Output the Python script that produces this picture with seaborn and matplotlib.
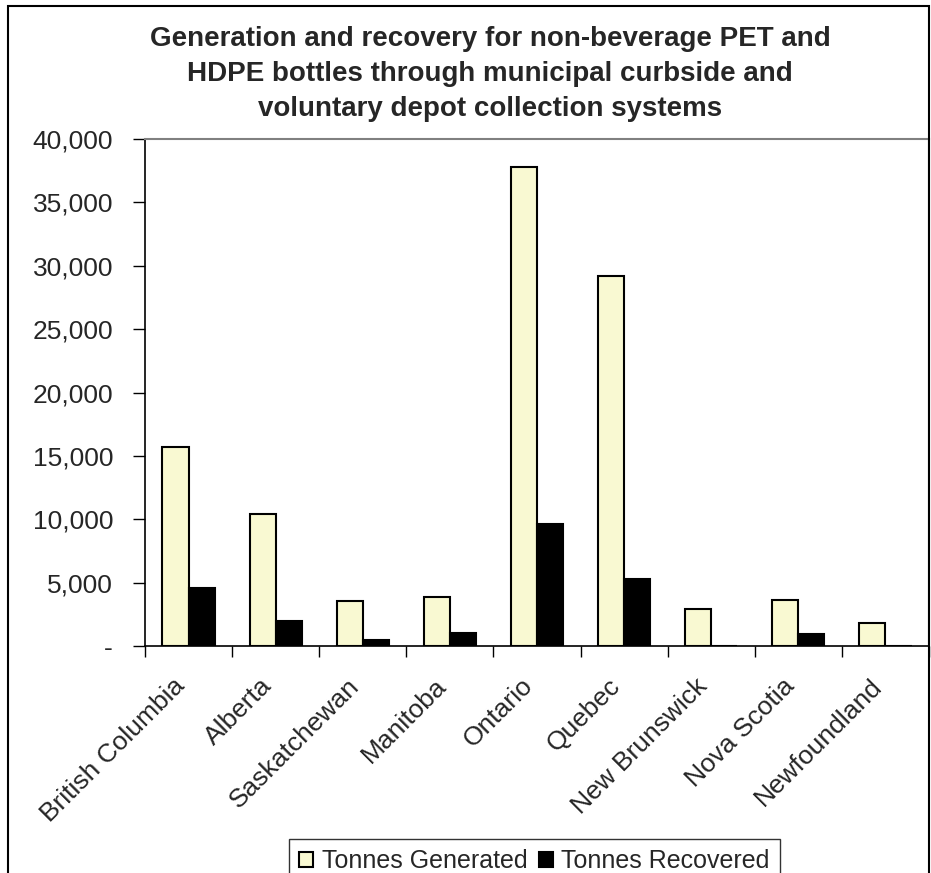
import pandas as pd
import seaborn as sns
import matplotlib.pyplot as plt
from matplotlib.ticker import FuncFormatter, FixedLocator
from matplotlib.patches import Rectangle
from matplotlib.transforms import ScaledTranslation

# Values (tonnes)
provinces = ['British Columbia', 'Alberta', 'Saskatchewan', 'Manitoba', 'Ontario',
             'Quebec', 'New Brunswick', 'Nova Scotia', 'Newfoundland']
generated = [15700, 10440, 3570, 3870, 37800, 29170, 2900, 3600, 1790]
recovered = [4550, 1950, 450, 1000, 9650, 5260, 0, 970, 0]
series = ['Tonnes Generated', 'Tonnes Recovered']
colors = ['#FFFFCC', '#000000']

df = pd.DataFrame({
    'Province': provinces * 2,
    'Series': [series[0]] * len(provinces) + [series[1]] * len(provinces),
    'Tonnes': generated + recovered,
})

sns.set_style('white')
plt.rcParams['font.family'] = ['Liberation Sans', 'DejaVu Sans']

fig = plt.figure(figsize=(9.31, 8.73), dpi=100)
ax = fig.add_axes([145 / 931, 1 - 646 / 873, (929 - 145) / 931, (646 - 139) / 873])

sns.barplot(data=df, x='Province', y='Tonnes', hue='Series', palette=colors,
            width=0.6, edgecolor='black', linewidth=1.5, ax=ax, legend=True)

ax.set_xlim(-0.5, len(provinces) - 0.5)
ax.set_ylim(0, 40000)
ax.set_yticks(range(0, 40001, 5000))
ax.yaxis.set_major_formatter(FuncFormatter(lambda v, p: '-' if v == 0 else f'{int(v):,}'))
ax.tick_params(axis='y', direction='out', length=9, width=1, color='black',
               labelsize=19, pad=14, left=True)

# category labels at centres, tick marks between categories
ax.set_xticks(range(len(provinces)))
ax.set_xticklabels(provinces, rotation=45, ha='right', rotation_mode='anchor', fontsize=19)
ax.tick_params(axis='x', which='major', length=0, pad=20)
shift = ScaledTranslation(-16 / 100, 0, fig.dpi_scale_trans)
for lbl in ax.get_xticklabels():
    lbl.set_transform(lbl.get_transform() + shift)
ax.xaxis.set_minor_locator(FixedLocator([i - 0.5 for i in range(len(provinces) + 1)]))
ax.tick_params(axis='x', which='minor', direction='out', length=8, width=1,
               color='black', bottom=True)

ax.set_xlabel('')
ax.set_ylabel('')

for side in ['left', 'bottom']:
    ax.spines[side].set_color('black')
    ax.spines[side].set_linewidth(1.2)
ax.spines['top'].set_color('#808080')
ax.spines['top'].set_linewidth(1.5)
ax.spines['right'].set_color('#808080')
ax.spines['right'].set_linewidth(1.5)

fig.text(490 / 931, 1 - 74 / 873,
         'Generation and recovery for non-beverage PET and\n'
         'HDPE bottles through municipal curbside and\n'
         'voluntary depot collection systems',
         ha='center', va='center', fontsize=20, fontweight='bold', linespacing=1.45)

ax.get_legend().remove()
handles, labels = ax.get_legend_handles_labels()
leg = fig.legend(handles, labels, loc='upper center', bbox_to_anchor=(534.5 / 931, 1 - 839 / 873),
                 ncol=2, fontsize=18, frameon=True, fancybox=False, edgecolor='black',
                 handlelength=0.55, handleheight=0.55, handletextpad=0.35, columnspacing=0.45,
                 borderpad=0.4, borderaxespad=0)
leg.get_frame().set_linewidth(1)

# outer chart frame
fig.patches.append(Rectangle((8 / 931, -0.05), (929 - 8) / 931, 1.05 - 6 / 873,
                             transform=fig.transFigure, fill=False, edgecolor='black',
                             linewidth=1.5, zorder=0))

fig.savefig('out.png', dpi=100)
